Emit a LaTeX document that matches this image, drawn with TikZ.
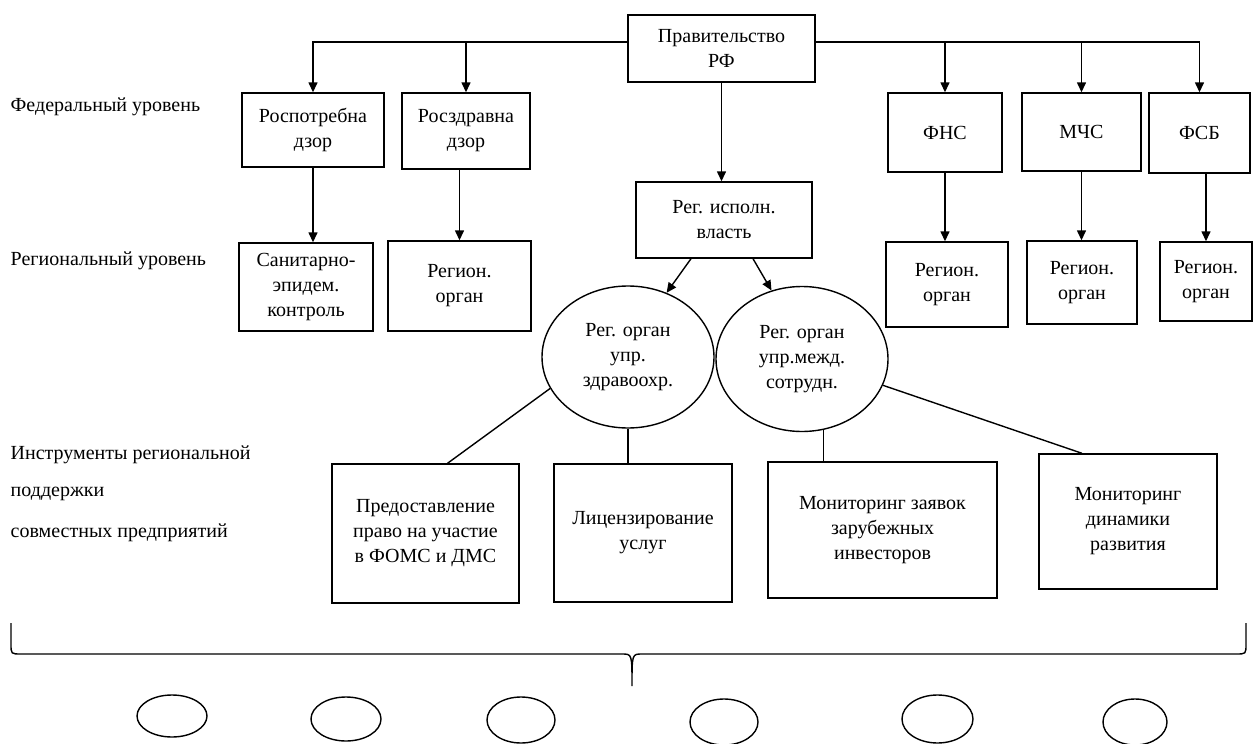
\documentclass[tikz,border=0pt]{standalone}
\usepackage{fontspec}
\setmainfont{Liberation Serif}
\newfontfamily\serfont{Liberation Serif}
\usetikzlibrary{shapes.geometric,arrows.meta,calc}
\begin{document}
\begin{tikzpicture}[x=0.5pt,y=-0.5pt,
  font=\serfont\fontsize{10pt}{12.5pt}\selectfont,
  line width=0.7pt,
  box/.style={draw, rectangle, align=center, inner sep=0pt},
  oval/.style={draw, ellipse, align=center, inner sep=0pt},
  wh/.style 2 args={minimum width=#1*0.5pt, minimum height=#2*0.5pt},
  lbl/.style={anchor=west, inner sep=0pt},
  arr/.style={-{Triangle[length=5pt,width=4.5pt]}}]
\useasboundingbox (0,0) rectangle (1254,744);

% left level labels
\node[lbl] (lfed) at (10,107) {Федеральный уровень};
\node[lbl] (lreg) at (10,261) {Региональный уровень};
\node[lbl] (li1) at (10,455) {Инструменты региональной};
\node[lbl] (li2) at (10,494) {поддержки};
\node[lbl] (li3) at (10,533) {совместных предприятий};

% federal level
\node[box, wh={187}{67}] (gov) at (721.5,48.5) {Правительство\\РФ};
\node[box, wh={142}{74}] (rpn) at (313,130) {Роспотребна\\дзор};
\node[box, wh={128}{76}] (rzn) at (466,131) {Росздравна\\дзор};
\node[box, wh={114}{79}] (fns) at (945,132.5) {ФНС};
\node[box, wh={119}{78}] (mchs) at (1081.5,132) {МЧС};
\node[box, wh={101}{80}] (fsb) at (1199.5,133) {ФСБ};

% regional level
\node[box, wh={134}{88}] (san) at (306,287) {Санитарно-\\эпидем.\\контроль};
\node[box, wh={143}{90}] (rgA) at (459.5,286) {Регион.\\орган};
\node[box, wh={176}{76}] (isp) at (724,220) {Рег. исполн.\\власть};
\node[box, wh={122}{85}] (rgB) at (947,284.5) {Регион.\\орган};
\node[box, wh={110}{83}] (rgC) at (1082,282.5) {Регион.\\орган};
\node[box, wh={92}{79}] (rgD) at (1206,281.5) {Регион.\\орган};
\node[oval, wh={172}{142}] (ovL) at (628,357) {Рег. орган\\упр.\\здравоохр.};
\node[oval, wh={172}{145}] (ovR) at (802,359) {Рег. орган\\упр.межд.\\сотрудн.};

% instruments
\node[box, wh={187}{139}] (pred) at (425.5,533.5) {Предоставление\\право на участие\\в ФОМС и ДМС};
\node[box, wh={178}{138}] (lic) at (643,533) {Лицензирование\\услуг};
\node[box, wh={229}{136}] (monz) at (882.5,530) {Мониторинг заявок\\зарубежных\\инвесторов};
\node[box, wh={178}{135}] (mond) at (1128,521.5) {Мониторинг\\динамики\\развития};

% bottom ovals
\node[oval, wh={70}{42}] (o1) at (172,716) {};
\node[oval, wh={70}{44}] (o2) at (346,719) {};
\node[oval, wh={68}{46}] (o3) at (521,720) {};
\node[oval, wh={68}{46}] (o4) at (724,722) {};
\node[oval, wh={71}{48}] (o5) at (937.5,719) {};
\node[oval, wh={64}{46}] (o6) at (1135,722) {};

% connectors from government
\coordinate (bus) at (721.5,42);
\draw[arr] (gov.west |- bus) -| (rpn.north);
\draw[arr] (rzn.north |- bus) -- (rzn.north);
\draw[arr] (gov.east |- bus) -| (fsb.north);
\draw[arr] (fns.north |- bus) -- (fns.north);
\draw[arr] (mchs.north |- bus) -- (mchs.north);
\draw[arr] (gov.south) -- (gov.south |- isp.north);

% federal -> regional
\draw[arr] (rpn.south) -- (rpn.south |- san.north);
\draw[arr] (rgA.north |- rzn.south) -- (rgA.north);
\draw[arr] (fns.south) -- (fns.south |- rgB.north);
\draw[arr] (mchs.south) -- (mchs.south |- rgC.north);
\draw[arr] (rgD.north |- fsb.south) -- (rgD.north);

% regional executive -> ovals
\draw[arr] ($(isp.south)+(-33,0)$) -- (ovL.59);
\draw[arr] ($(isp.south)+(29,0)$) -- (ovR.114);

% ovals -> instruments
\draw (ovL.202) -- ($(pred.north)+(22,0)$);
\draw (ovL.south) -- (ovL.south |- lic.north);
\draw (ovR.287) -- (ovR.287 |- monz.north);
\draw (ovR.342) -- ($(mond.north)+(-46,0)$);

% brace
\draw (11,623) -- (11,644) .. controls (11,654) .. (21,654) -- (622,654)
  .. controls (632,654) .. (632,686)
  .. controls (632,654) .. (642,654) -- (1236,654)
  .. controls (1246,654) .. (1246,644) -- (1246,623);
\end{tikzpicture}
\end{document}
